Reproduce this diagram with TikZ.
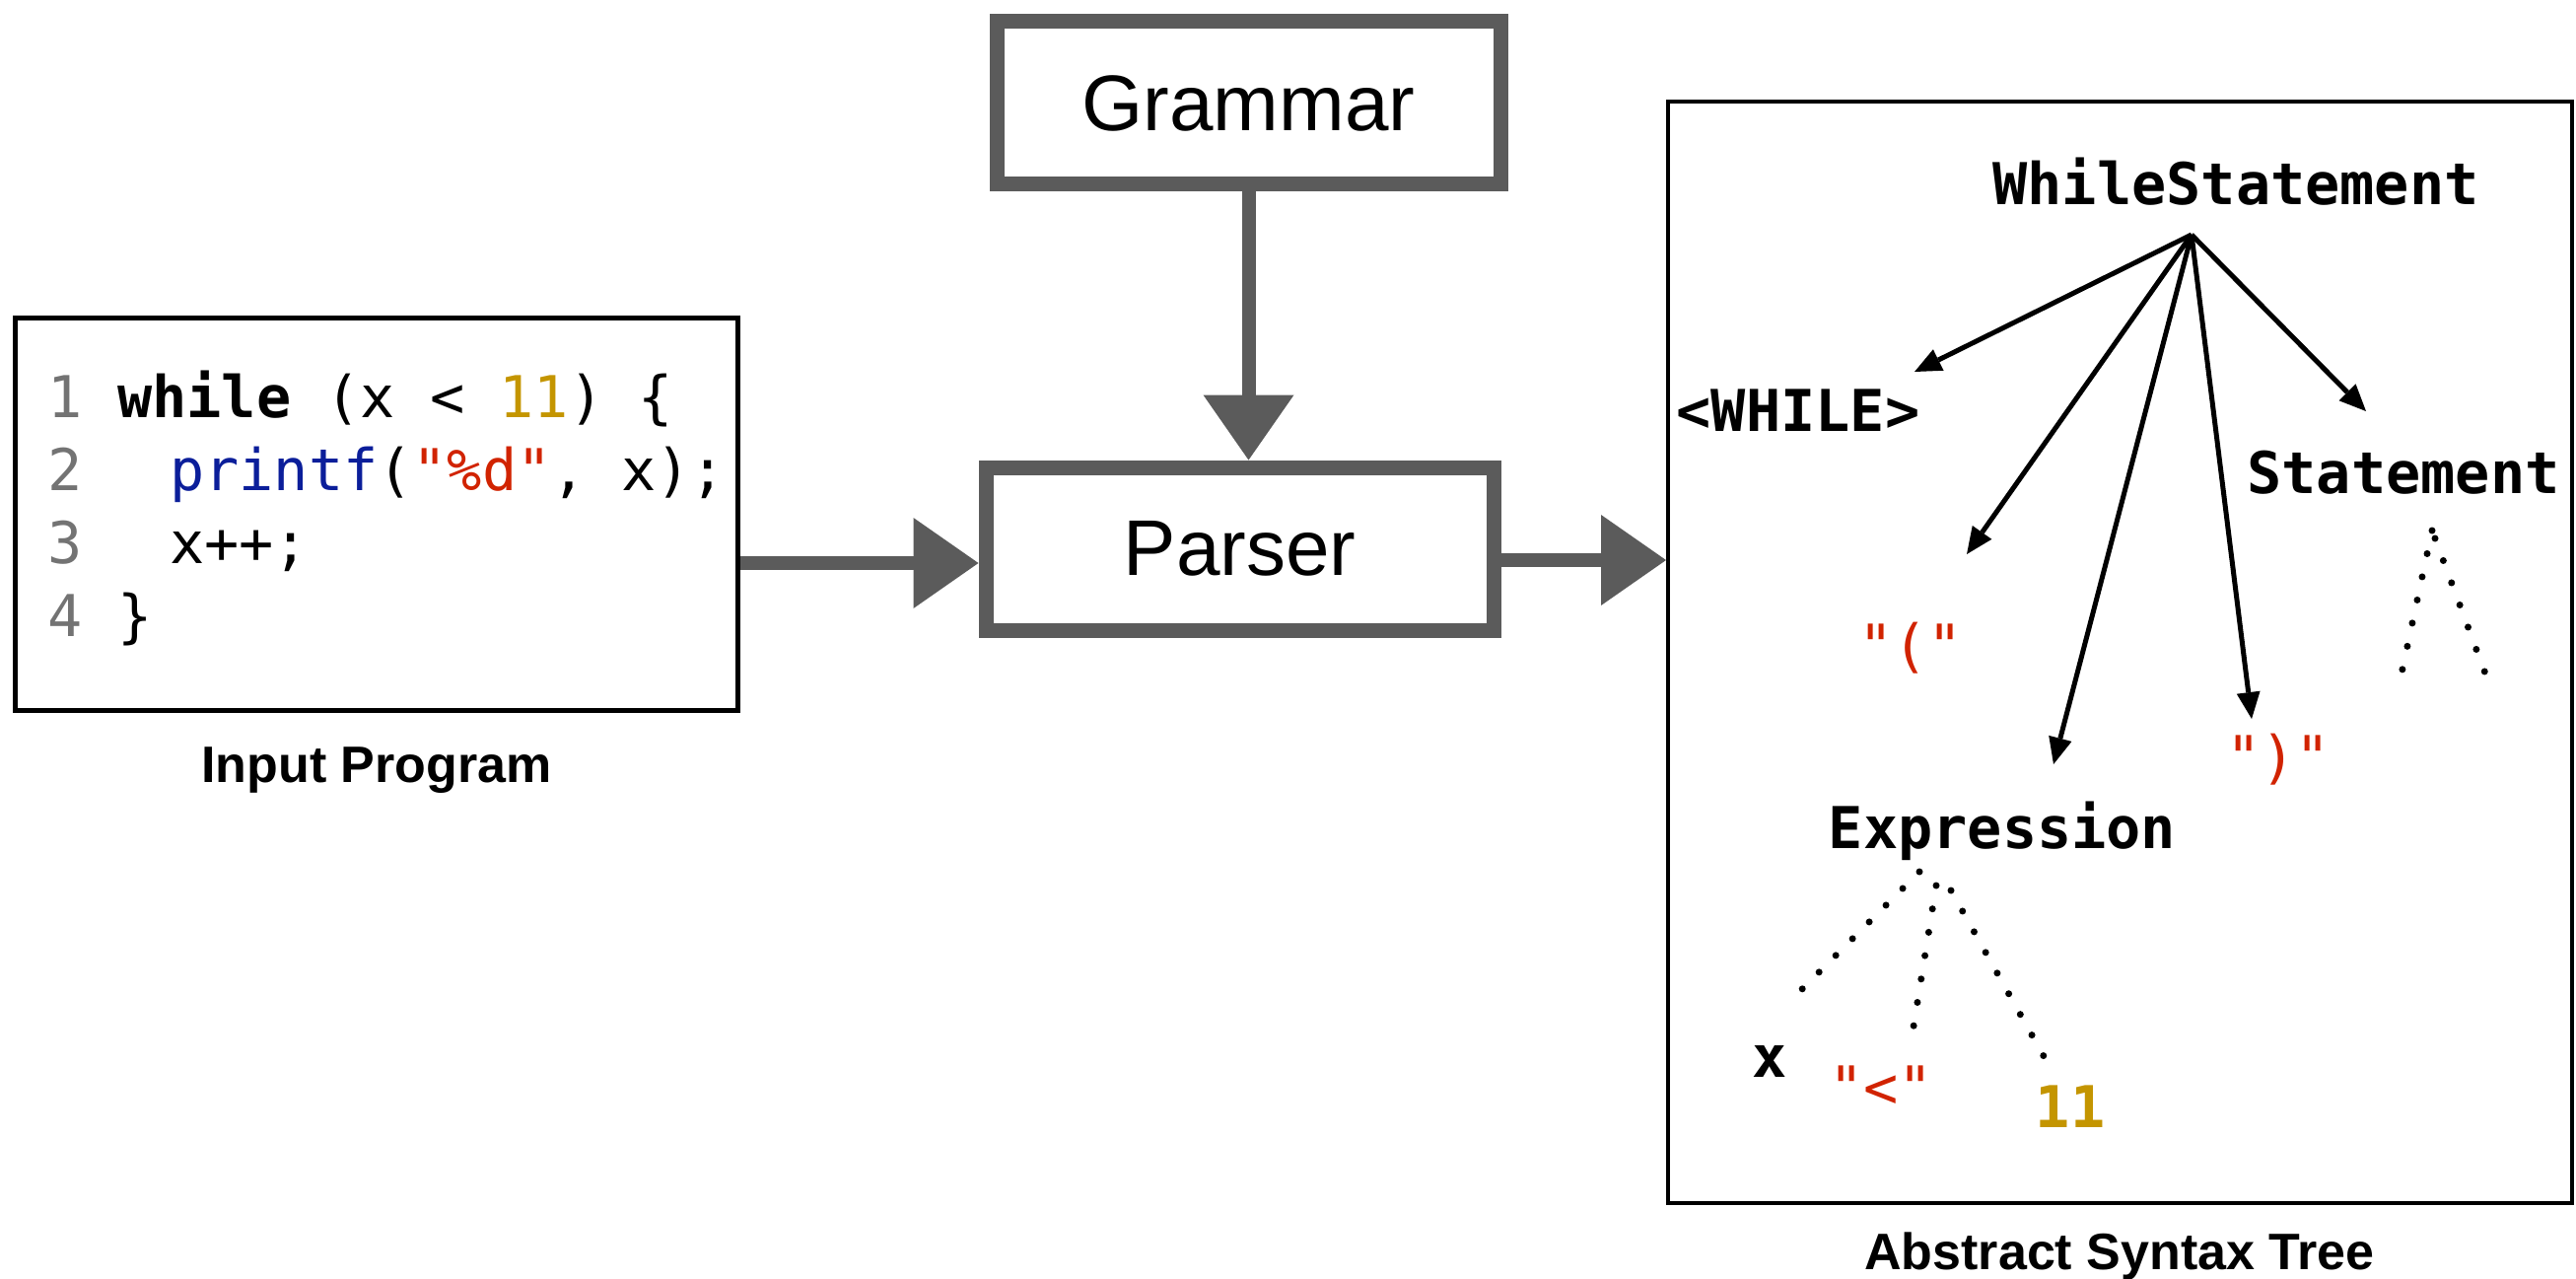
\documentclass[tikz,border=0pt]{standalone}
\usepackage{fontspec}
\setmainfont{Liberation Sans}
\newfontfamily\codefont{DejaVu Sans Mono}
\usetikzlibrary{arrows.meta}
\definecolor{sgray}{HTML}{5B5B5B}
\definecolor{lnum}{HTML}{737373}
\definecolor{cgold}{HTML}{C49500}
\definecolor{cblue}{HTML}{0B1E9A}
\definecolor{cred}{HTML}{D12300}
\tikzset{
  gbox/.style={draw=sgray, line width=15pt, inner sep=0pt, font=\fontsize{80}{96}\selectfont},
  garrow/.style={draw=sgray, line width=14pt, -{Triangle[length=66pt,width=92pt,line width=0pt]}},
  tarrow/.style={draw=black, line width=5pt, -{Triangle[length=27pt,width=24pt,line width=0pt]}},
  dotleg/.style={draw=black, line width=7pt, line cap=round, dash pattern=on 0pt off 24pt},
  codetxt/.style={anchor=base west, inner sep=0pt, font=\codefont\fontsize{58.5}{70}\selectfont},
  lnumtxt/.style={codetxt, text=lnum},
  tb/.style={anchor=base, inner sep=0pt, font=\codefont\bfseries\fontsize{58.5}{70}\selectfont},
  tr/.style={anchor=base, inner sep=0pt, text=cred, font=\codefont\fontsize{58.5}{70}\selectfont},
  caption/.style={anchor=base, inner sep=0pt, font=\bfseries\fontsize{52}{62}\selectfont},
}
\begin{document}
\begin{tikzpicture}[x=1pt,y=-1pt]
\useasboundingbox (0,0) rectangle (2613,1297);

% Input program box
\node[draw=black, line width=5pt, minimum width=733pt, minimum height=397pt, inner sep=0pt] (input) at (381.5,521.5) {};
\node[lnumtxt] (n1) at (48,423) {1};
\node[lnumtxt] (n2) at (48,497) {2};
\node[lnumtxt] (n3) at (48,571) {3};
\node[lnumtxt] (n4) at (48,645) {4};
\node[codetxt] (c1) at (119,423) {{\bfseries while} (x < {\color{cgold}11}) \{};
\node[codetxt] (c2) at (172,497) {{\color{cblue}printf}({\color{cred}"\%d"}, x);};
\node[codetxt] (c3) at (172,571) {x++;};
\node[codetxt] (c4) at (119,645) {\}};
\node[caption] (lin) at (382,793) {Input Program};

% Grammar and Parser
\node[gbox, minimum width=511pt, minimum height=165pt] (grammar) at (1266.5,104.5) {Grammar};
\node[gbox, minimum width=515pt, minimum height=165pt] (parser) at (1257.5,556.5) {Parser};

% AST box
\node[draw=black, line width=4pt, minimum width=917pt, minimum height=1117pt, inner sep=0pt] (ast) at (2150.5,661.5) {};
\node[caption] (last) at (2150,1287) {Abstract Syntax Tree};

% main arrows
\coordinate (ay1) at (0,571);
\coordinate (ay2) at (0,568);
\draw[garrow] (grammar.south) -- (grammar.south |- parser.north);
\draw[garrow] (input.east |- ay1) -- (parser.west |- ay1);
\draw[garrow] (parser.east |- ay2) -- (ast.west |- ay2);

% tree labels
\node[tb] (ws) at (2268,208) {WhileStatement};
\node[tb] (wl) at (1824,437) {<WHILE>};
\node[tb] (stm) at (2438,500) {Statement};
\node[tr] (lp) at (1938,675) {"("};
\node[tr] (rp) at (2311,788) {")"};
\node[tb] (ex) at (2031,860) {Expression};
\node[tb] (vx) at (1795,1092) {x};
\node[tr] (lt) at (1908,1123) {"<"};
\node[tb, text=cgold] (v11) at (2100,1143) {11};

% tree arrows
\coordinate (root) at ([xshift=-45pt,yshift=-30pt]ws.base);
\coordinate (tipW) at ([xshift=118pt,yshift=60pt]wl.base);
\coordinate (tipL) at ([xshift=57pt,yshift=113pt]lp.base);
\coordinate (tipE) at ([xshift=52pt,yshift=85pt]ex.base);
\coordinate (tipR) at ([xshift=-27pt,yshift=59pt]rp.base);
\coordinate (tipS) at ([xshift=-38pt,yshift=83pt]stm.base);
\draw[tarrow] (root) -- (tipW);
\draw[tarrow] (root) -- (tipL);
\draw[tarrow] (root) -- (tipE);
\draw[tarrow] (root) -- (tipR);
\draw[tarrow] (root) -- (tipS);

% dotted subtrees
\coordinate (sa1) at (2467,538);
\coordinate (sb1) at (2436,683);
\coordinate (sa2) at (2470,546);
\coordinate (sb2) at (2521,683);
\draw[dotleg] (sa1) -- (sb1);
\draw[dotleg] (sa2) -- (sb2);
\coordinate (ea1) at (1947,884);
\coordinate (eb1) at (1828,1003);
\coordinate (ea2) at (1964,898);
\coordinate (eb2) at (1941,1041);
\coordinate (ea3) at (1979,903);
\coordinate (eb3) at (2073,1071);
\draw[dotleg] (ea1) -- (eb1);
\draw[dotleg] (ea2) -- (eb2);
\draw[dotleg] (ea3) -- (eb3);
\end{tikzpicture}
\end{document}
